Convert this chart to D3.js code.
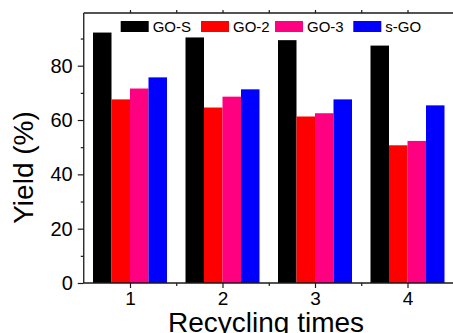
<!DOCTYPE html>
<html><head><meta charset="utf-8">
<script src="https://cdn.jsdelivr.net/npm/d3@7"></script>
<style>body{margin:0;background:#fff}svg{display:block;font-family:"Liberation Sans",Arial,sans-serif}</style>
</head><body><svg id="c" width="453" height="333"></svg>
<script>
const categories = [1, 2, 3, 4];
const seriesNames = ["GO-S", "GO-2", "GO-3", "s-GO"];
const seriesColors = ["#000000", "#ff0000", "#ff0080", "#0000ff"];
const goS = [92.2, 90.4, 89.4, 87.4];
const go2 = [67.6, 64.6, 61.3, 50.7];
const go3 = [71.6, 68.6, 62.5, 52.3];
const sGO = [75.7, 71.3, 67.6, 65.4];
const yTicks = [0, 20, 40, 60, 80];
const yMinorTicks = [10, 30, 50, 70, 90];
const xMinorTicks = [1.5, 2.5, 3.5];

const series = [goS, go2, go3, sGO];
const svg = d3.select("#c");
const x = d3.scaleLinear().domain([0.5, 4.5]).range([83.75, 453.75]);
const y = d3.scaleLinear().domain([0, 99.4]).range([283, 13]);
const barW = 0.2;
const axisColor = "#1a1a1a";

// bars
series.forEach((vals, si) => {
  svg.append("g").selectAll("rect").data(vals).join("rect")
    .attr("x", (d, i) => x(categories[i] - 0.4 + si * barW))
    .attr("width", x(barW) - x(0))
    .attr("y", d => y(d))
    .attr("height", d => y(0) - y(d))
    .attr("fill", seriesColors[si]);
});

// axes
const gx = svg.append("g").attr("transform", `translate(0,${y(0)})`)
  .call(d3.axisBottom(x).tickValues(categories).tickFormat(d3.format("d")).tickSize(5).tickPadding(4));
const gxm = svg.append("g").attr("transform", `translate(0,${y(0)})`)
  .call(d3.axisBottom(x).tickValues(xMinorTicks).tickFormat("").tickSize(3));
const gy = svg.append("g").attr("transform", `translate(${x(0.5)},0)`)
  .call(d3.axisLeft(y).tickValues(yTicks).tickSize(6).tickPadding(5));
const gym = svg.append("g").attr("transform", `translate(${x(0.5)},0)`)
  .call(d3.axisLeft(y).tickValues(yMinorTicks).tickFormat("").tickSize(3));
const gt = svg.append("g").attr("transform", `translate(0,${y(99.4)})`)
  .call(d3.axisTop(x).tickValues(categories.concat(xMinorTicks)).tickFormat("").tickSize(3));
[gx, gxm, gy, gym, gt].forEach(g => {
  g.selectAll("path").attr("stroke", axisColor).attr("stroke-width", 1.3);
  g.selectAll("line").attr("stroke", axisColor).attr("stroke-width", 1.2);
  g.selectAll("text").attr("fill", "#000").style("font-family", "Liberation Sans, Arial, sans-serif");
});
gx.selectAll("text").style("font-size", "19px");
gy.selectAll("text").style("font-size", "20px");
gt.select("path").attr("d", `M${x(0.5)},0H${x(4.5)}`);
gx.select("path").attr("d", `M${x(0.5)},0H${x(4.5)}`);
gy.select("path").attr("d", `M0,${y(0)}V${y(99.4)}`);
gym.select("path").remove();
gxm.select("path").remove();

// titles
svg.append("text").attr("x", 266).attr("y", 332).attr("text-anchor", "middle")
  .style("font-size", "28px").text("Recycling times");
svg.append("text").attr("transform", "translate(33,167.5) rotate(-90)").attr("text-anchor", "middle")
  .style("font-size", "28px").text("Yield (%)");

// legend
const legX = [120.7, 201, 275, 353.3];
const leg = svg.append("g");
seriesNames.forEach((n, i) => {
  leg.append("rect").attr("x", legX[i]).attr("y", 21).attr("width", 28).attr("height", 11).attr("fill", seriesColors[i]);
  leg.append("text").attr("x", legX[i] + 32).attr("y", 31.7).style("font-size", "15px").text(n);
});
</script></body></html>
